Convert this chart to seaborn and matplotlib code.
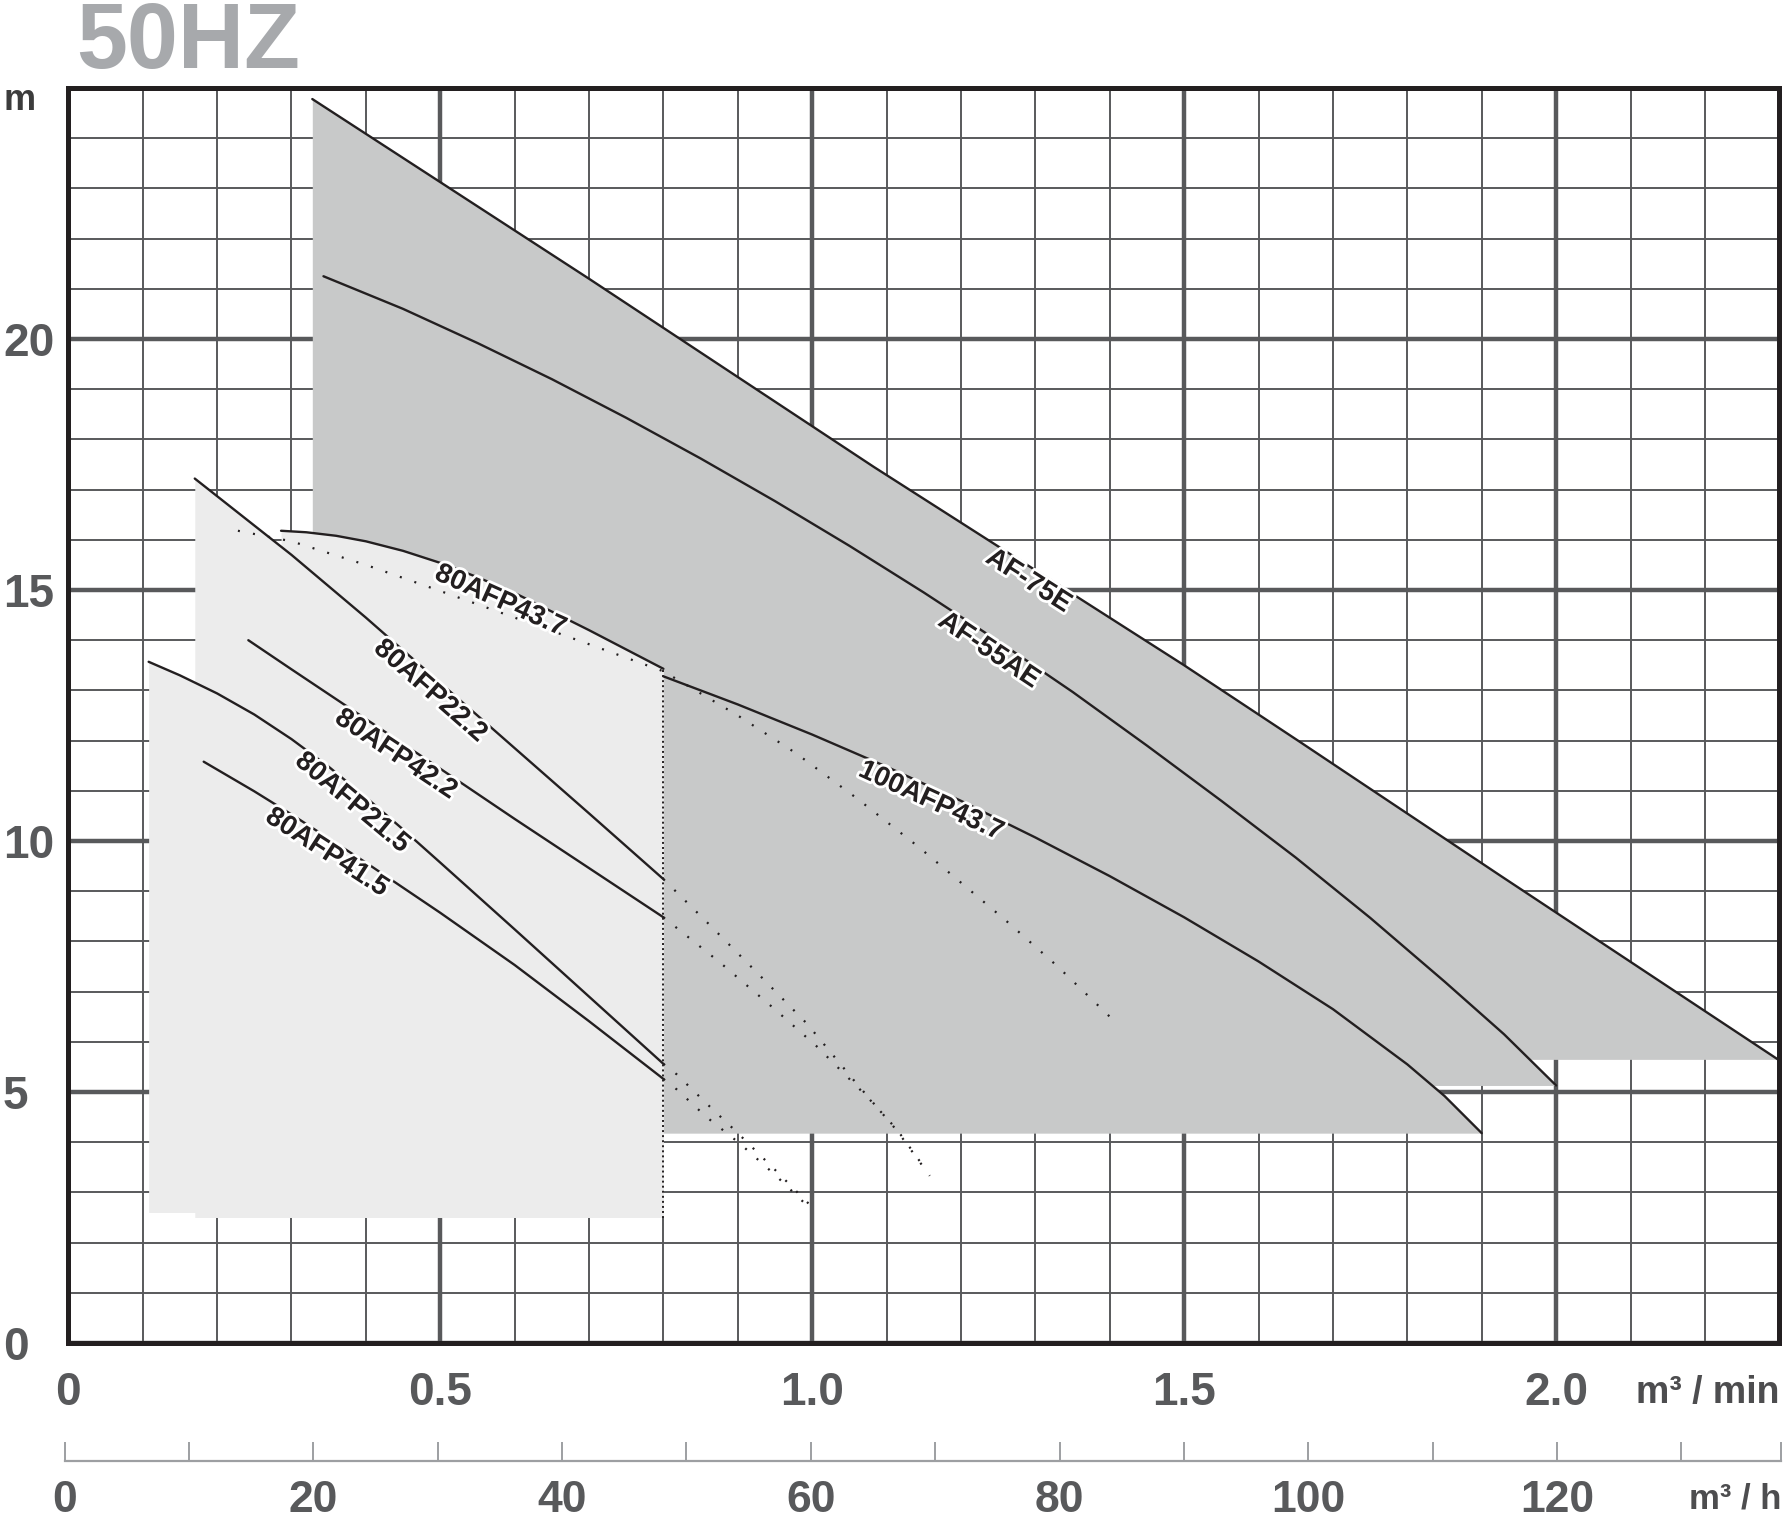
import numpy as np
import matplotlib
matplotlib.use("Agg")
import matplotlib.pyplot as plt
import matplotlib.patheffects as pe
from matplotlib import font_manager
from matplotlib.ticker import MultipleLocator
import seaborn as sns

# --- pump curves: flow (m3/min) vs head (m) ---

af75_q = [0.328, 0.7, 1.083, 1.5, 1.655, 1.925, 2.298]
af75_h = [24.78, 21.2, 17.45, 13.5, 11.98, 9.31, 5.65]

af55_q = [0.343, 0.45, 0.55, 0.65, 0.75, 0.85, 0.95, 1.05, 1.15, 1.25, 1.35,
          1.45, 1.55, 1.65, 1.75, 1.85, 1.93, 2.0]
af55_h = [21.25, 20.6, 19.92, 19.2, 18.43, 17.62, 16.77, 15.88, 14.95, 13.98, 12.97,
          11.9, 10.8, 9.67, 8.47, 7.2, 6.15, 5.13]

p100_437_q = [0.8, 0.9, 1.0, 1.1, 1.2, 1.3, 1.4, 1.5, 1.6, 1.7, 1.8, 1.85, 1.9]
p100_437_h = [13.28, 12.72, 12.12, 11.48, 10.8, 10.07, 9.3, 8.48, 7.6, 6.65, 5.55, 4.92, 4.18]

p80_437_q = [0.286, 0.32, 0.36, 0.4, 0.45, 0.5, 0.55, 0.6, 0.7, 0.8]
p80_437_h = [16.18, 16.15, 16.08, 15.97, 15.78, 15.54, 15.255, 14.94, 14.2, 13.43]

p80_222_q = [0.17, 0.3, 0.4, 0.5, 0.6, 0.7, 0.8]
p80_222_h = [17.22, 15.7, 14.45, 13.15, 11.85, 10.55, 9.24]

p80_422_q = [0.242, 0.3, 0.4, 0.5, 0.6, 0.7, 0.8]
p80_422_h = [14.0, 13.42, 12.43, 11.44, 10.44, 9.46, 8.48]

p80_215_q = [0.108, 0.15, 0.2, 0.25, 0.3, 0.35, 0.4, 0.45, 0.5, 0.6, 0.7, 0.8]
p80_215_h = [13.57, 13.3, 12.94, 12.52, 12.03, 11.48, 10.87, 10.23, 9.57, 8.24, 6.9, 5.56]

p80_415_q = [0.182, 0.25, 0.3, 0.4, 0.5, 0.6, 0.7, 0.8]
p80_415_h = [11.58, 10.99, 10.53, 9.57, 8.57, 7.53, 6.41, 5.26]

# dotted extensions beyond the operating range
sys_437_q = [0.228, 0.3, 0.4, 0.5, 0.6, 0.7, 0.8, 0.9, 0.978, 1.06, 1.144, 1.26, 1.33, 1.40]
sys_437_h = [16.18, 15.97, 15.5, 14.98, 14.45, 13.92, 13.38, 12.5, 11.75, 10.85, 9.87, 8.42, 7.5, 6.5]

ext_222_q = [0.8, 0.858, 0.925, 0.993, 1.055, 1.114, 1.158]
ext_222_h = [9.24, 8.39, 7.39, 6.36, 5.25, 4.23, 3.33]

ext_422_q = [0.8, 0.876, 0.948, 1.006, 1.073, 1.114, 1.149]
ext_422_h = [8.48, 7.58, 6.67, 5.91, 4.92, 4.25, 3.53]

ext_215_q = [0.8, 0.818, 0.858, 0.898, 0.95, 1.007]
ext_215_h = [5.56, 5.35, 4.77, 4.21, 3.45, 2.6]

ext_415_q = [0.8, 0.818, 0.858, 0.903, 0.95, 1.0]
ext_415_h = [5.26, 5.05, 4.5, 3.97, 3.35, 2.64]

# bottoms of the shaded ranges
af75_base = 5.65
af55_base = 5.13
p100_base = 4.18
p80_base = 2.5
p80_215_base = 2.6
split_q = 0.8

# curve labels: name and the flow where it sits on its curve
label_names = ["AF-75E", "AF-55AE", "100AFP43.7", "80AFP43.7",
               "80AFP22.2", "80AFP42.2", "80AFP21.5", "80AFP41.5"]
label_q = [1.30, 1.247, 1.167, 0.588, 0.498, 0.45, 0.393, 0.357]

# axis ticks
q_ticks = [0, 0.5, 1.0, 1.5, 2.0]
q_tick_labels = ["0", "0.5", "1.0", "1.5", "2.0"]
h_ticks = [0, 5, 10, 15, 20]
h_tick_labels = ["0", "5", "10", "15", "20"]
qh_ticks = [0, 10, 20, 30, 40, 50, 60, 70, 80, 90, 100, 110, 120, 130, 138]
qh_tick_labels = ["0", "", "20", "", "40", "", "60", "", "80", "", "100", "", "120", "", ""]

# --- style ---
sns.set_theme(style="white")
narrow = "Liberation Sans Narrow"
try:
    font_manager.findfont(narrow, fallback_to_default=False)
except ValueError:
    narrow = "Liberation Sans"
plt.rcParams['font.family'] = ['Liberation Sans', 'DejaVu Sans']

INK = "#231f20"
GRID = "#58595b"
DARK = "#c8c9c9"
LIGHT = "#ececec"
LABEL_GRAY = "#58595b"

W, H = 1785, 1522
fig = plt.figure(figsize=(W / 100, H / 100), dpi=100)
ax = fig.add_axes([68.3 / W, 179 / H, 1711 / W, 1255 / H])
ax.set_xlim(0, 2.3)
ax.set_ylim(0, 25)

# grid sits under the shaded areas
ax.set_axisbelow(True)
ax.set_xticks(q_ticks)
ax.set_xticklabels(q_tick_labels)
ax.set_yticks(h_ticks)
ax.set_yticklabels(h_tick_labels)
ax.xaxis.set_minor_locator(MultipleLocator(0.1))
ax.yaxis.set_minor_locator(MultipleLocator(1))
ax.grid(which="major", color=GRID, lw=3.2)
ax.grid(which="minor", color=GRID, lw=1.4)
ax.tick_params(which="both", length=0)
ax.tick_params(axis="x", pad=20, labelsize=33, labelcolor=LABEL_GRAY)
ax.tick_params(axis="y", pad=47, labelsize=33, labelcolor=LABEL_GRAY)
for lab in ax.get_xticklabels() + ax.get_yticklabels():
    lab.set_fontfamily(narrow)
    lab.set_fontweight("bold")
for lab in ax.get_yticklabels():
    lab.set_horizontalalignment("left")
for sp in ax.spines.values():
    sp.set_color(INK)
    sp.set_linewidth(3.6)
    sp.set_visible(True)

# shaded ranges
ax.fill_between(af75_q, af75_h, af75_base, color=DARK, lw=0, zorder=1)
ax.fill_between(af55_q, af55_h, af55_base, color=DARK, lw=0, zorder=1)
ax.fill_between(p100_437_q, p100_437_h, p100_base, color=DARK, lw=0, zorder=1)
ax.fill_between(p80_215_q, p80_215_h, p80_215_base, color=LIGHT, lw=0, zorder=1.2)
for q, h in [(p80_415_q, p80_415_h), (p80_422_q, p80_422_h),
             (p80_222_q, p80_222_h), (p80_437_q, p80_437_h)]:
    ax.fill_between(q, h, p80_base, color=LIGHT, lw=0, zorder=1.2)

# solid curves
curves = [(af75_q, af75_h), (af55_q, af55_h), (p100_437_q, p100_437_h),
          (p80_437_q, p80_437_h), (p80_222_q, p80_222_h), (p80_422_q, p80_422_h),
          (p80_215_q, p80_215_h), (p80_415_q, p80_415_h)]
for q, h in curves:
    sns.lineplot(x=q, y=h, ax=ax, color=INK, lw=1.7, sort=False,
                 estimator=None, zorder=3)

# dotted extensions
for q, h in [(sys_437_q, sys_437_h), (ext_222_q, ext_222_h), (ext_422_q, ext_422_h),
             (ext_215_q, ext_215_h), (ext_415_q, ext_415_h)]:
    sns.lineplot(x=q, y=h, ax=ax, color=INK, lw=1.6, sort=False, estimator=None,
                 linestyle=(0, (0.9, 6.0)), zorder=3)
ax.plot([split_q, split_q], [p80_base, p80_437_h[-1]], color=INK, lw=1.4,
        linestyle=(0, (1.0, 1.6)), zorder=3)
ax.set_xlabel("")
ax.set_ylabel("")

# labels along the curves
fig.canvas.draw()
for name, qx, (q, h) in zip(label_names, label_q, curves):
    y0 = np.interp(qx, q, h)
    p1 = ax.transData.transform((qx - 0.03, np.interp(qx - 0.03, q, h)))
    p2 = ax.transData.transform((qx + 0.03, np.interp(qx + 0.03, q, h)))
    ang = np.degrees(np.arctan2(p2[1] - p1[1], p2[0] - p1[0]))
    ax.text(qx, y0, name, rotation=ang, rotation_mode="anchor", ha="center", va="top",
            fontsize=20, fontweight="bold", color=INK, zorder=4,
            path_effects=[pe.withStroke(linewidth=4, foreground="white")])

# second flow scale in m3/h
ax2 = fig.add_axes([64.5 / W, (H - 1461) / H, (1781 - 64.5) / W, 0.0001])
ax2.set_xlim(0, 138)
ax2.set_facecolor("none")
for side in ["top", "left", "right"]:
    ax2.spines[side].set_visible(False)
ax2.spines["bottom"].set_visible(True)
ax2.spines["bottom"].set_color("#9d9fa2")
ax2.spines["bottom"].set_linewidth(1.6)
ax2.set_yticks([])
ax2.set_xticks(qh_ticks)
ax2.set_xticklabels(qh_tick_labels)
ax2.tick_params(axis="x", bottom=True, direction="in", length=13.5, width=1.4,
                color="#9d9fa2", pad=14, labelsize=32, labelcolor=LABEL_GRAY)
for lab in ax2.get_xticklabels():
    lab.set_fontfamily(narrow)
    lab.set_fontweight("bold")

# title and units
fig.text(76 / W, 1 - 68 / H, "50HZ", ha="left", va="baseline", fontsize=66,
         fontweight="bold", color="#a7a9ac", family=narrow)
fig.text(20 / W, 1 - 100 / H, "m", ha="center", va="center", fontsize=26,
         fontweight="bold", color="#3c3c3c")
fig.text(1779 / W, 1 - 1393 / H, "m³ / min", ha="right", va="center", fontsize=27,
         fontweight="bold", color="#4d4d4f")
fig.text(1781 / W, 1 - 1499 / H, "m³ / h", ha="right", va="center", fontsize=25,
         fontweight="bold", color="#4d4d4f")

fig.savefig("out.png", dpi=100, facecolor="white")
